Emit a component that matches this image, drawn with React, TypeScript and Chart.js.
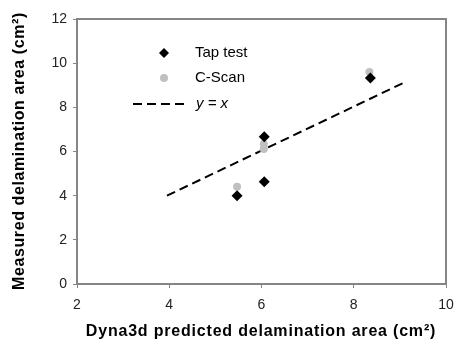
import React, { useEffect, useRef } from "react";
import { Chart, registerables } from "chart.js";

Chart.register(...registerables);

const tapX = [5.47, 6.06, 6.06, 8.36];
const tapY = [4.0, 4.63, 6.67, 9.33];
const cscanX = [5.47, 6.05, 6.05, 8.34];
const cscanY = [4.4, 6.11, 6.34, 9.6];
const lineX = [3.95, 9.12];
const lineY = [4.0, 9.15];
const xTicks = { min: 2, max: 10, step: 2 };
const yTicks = { min: 0, max: 12, step: 2 };
const xTitle = "Dyna3d predicted delamination area (cm²)";
const yTitle = "Measured delamination area (cm²)";
const legendLabels = ["Tap test", "C-Scan", "y = x"];

const FONT = "'Liberation Sans', Arial, sans-serif";

const decor = {
  id: "decor",
  afterDraw(chart: any) {
    const { ctx, chartArea: a } = chart;
    ctx.save();
    // frame
    ctx.strokeStyle = "#858585";
    ctx.lineWidth = 2;
    ctx.strokeRect(a.left, a.top, a.right - a.left, a.bottom - a.top);
    // titles
    ctx.fillStyle = "#000";
    ctx.font = `bold 16px ${FONT}`;
    ctx.textAlign = "center";
    ctx.textBaseline = "middle";
    (ctx as any).letterSpacing = "0.8px";
    ctx.fillText(xTitle, 261, 332);
    (ctx as any).letterSpacing = "0.6px";
    ctx.save();
    ctx.translate(20, 151);
    ctx.rotate(-Math.PI / 2);
    ctx.fillText(yTitle, 0, 0);
    ctx.restore();
    (ctx as any).letterSpacing = "0px";
    // legend
    ctx.textAlign = "left";
    ctx.font = `15px ${FONT}`;
    ctx.fillStyle = "#000";
    ctx.beginPath();
    const dx = 164, d1 = 53;
    ctx.moveTo(dx, d1 - 5);
    ctx.lineTo(dx + 5, d1);
    ctx.lineTo(dx, d1 + 5);
    ctx.lineTo(dx - 5, d1);
    ctx.closePath();
    ctx.fill();
    ctx.fillText(legendLabels[0], 195, 53);
    ctx.fillStyle = "#c0c0c0";
    ctx.beginPath();
    ctx.arc(dx, 78, 4, 0, Math.PI * 2);
    ctx.fill();
    ctx.fillStyle = "#000";
    ctx.fillText(legendLabels[1], 195, 78);
    ctx.strokeStyle = "#000";
    ctx.lineWidth = 2;
    ctx.setLineDash([9, 5]);
    ctx.beginPath();
    ctx.moveTo(133, 104);
    ctx.lineTo(188, 104);
    ctx.stroke();
    ctx.setLineDash([]);
    ctx.font = `italic 15px ${FONT}`;
    ctx.fillText(legendLabels[2], 196, 104);
    ctx.restore();
  },
};

export default function App() {
  const ref = useRef<HTMLCanvasElement>(null);
  useEffect(() => {
    const chart = new Chart(ref.current!, {
      type: "scatter",
      data: {
        datasets: [
          {
            label: "y = x",
            data: lineX.map((x, i) => ({ x, y: lineY[i] })),
            showLine: true,
            borderColor: "#000",
            borderWidth: 2,
            borderDash: [9, 5],
            pointRadius: 0,
            order: 3,
          },
          {
            label: "C-Scan",
            data: cscanX.map((x, i) => ({ x, y: cscanY[i] })),
            pointStyle: "circle",
            pointRadius: 4,
            backgroundColor: "#c0c0c0",
            borderColor: "#c0c0c0",
            borderWidth: 0,
            order: 2,
          },
          {
            label: "Tap test",
            data: tapX.map((x, i) => ({ x, y: tapY[i] })),
            pointStyle: "rectRot",
            pointRadius: 5.5,
            backgroundColor: "#000",
            borderColor: "#000",
            borderWidth: 0,
            order: 1,
          },
        ],
      },
      options: {
        responsive: false,
        animation: false,
        layout: { padding: { top: 19, right: 9, left: 0, bottom: 0 } },
        plugins: { legend: { display: false }, tooltip: { enabled: false } },
        scales: {
          x: {
            type: "linear",
            min: xTicks.min,
            max: xTicks.max,
            ticks: {
              stepSize: xTicks.step,
              color: "#222",
              font: { family: FONT, size: 14 },
              padding: 9,
            },
            grid: { drawOnChartArea: false, tickLength: 4, color: "#858585", lineWidth: 1 },
            border: { display: false },
            afterFit(s: any) {
              s.height = 61;
              s.paddingRight = 0;
              s.paddingLeft = 0;
            },
          },
          y: {
            type: "linear",
            min: yTicks.min,
            max: yTicks.max,
            ticks: {
              stepSize: yTicks.step,
              color: "#222",
              font: { family: FONT, size: 14 },
              padding: 6,
            },
            grid: { drawOnChartArea: false, tickLength: 4, color: "#858585", lineWidth: 1 },
            border: { display: false },
            afterFit(s: any) {
              s.width = 77;
              s.paddingTop = 0;
              s.paddingBottom = 0;
            },
          },
        },
      },
      plugins: [decor],
    });
    return () => chart.destroy();
  }, []);
  return (
    <div style={{ position: "fixed", left: 0, top: 0, width: 455, height: 345, background: "#fff" }}>
      <canvas ref={ref} width={455} height={345} />
    </div>
  );
}
